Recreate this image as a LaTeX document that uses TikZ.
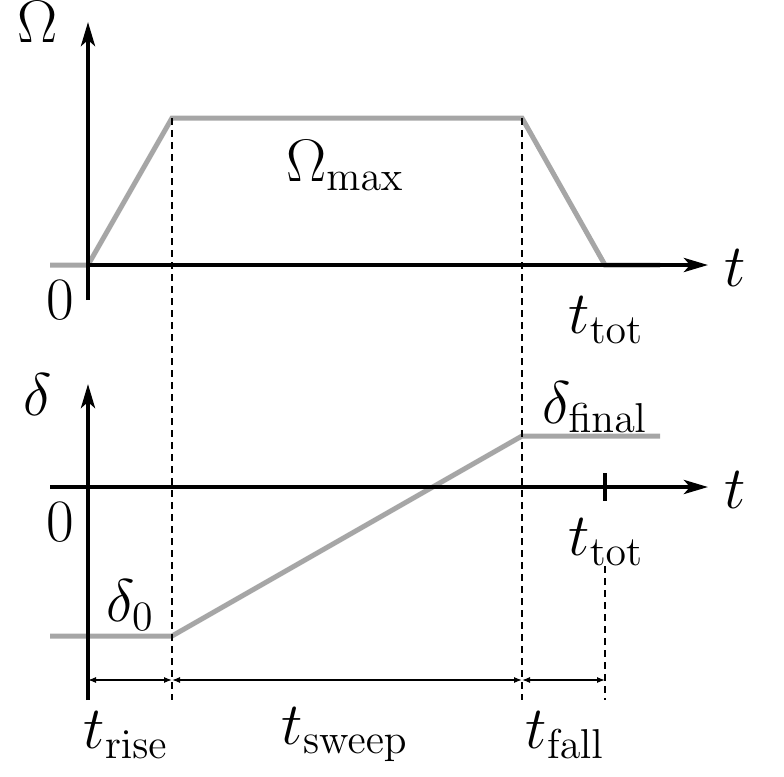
\documentclass[tikz,border=0pt]{standalone}
\usetikzlibrary{arrows.meta}

\begin{document}
\begin{tikzpicture}[x=1pt,y=-1pt,>={Stealth[length=24pt,width=14pt,inset=6pt]}]

    %
    % Styles for axes, pulses and guides
    %
    \tikzstyle{axis} = [black, line width=4pt];
    \tikzstyle{pulse} = [black!35, line width=5pt];
    \tikzstyle{guide} = [black, line width=1.6pt, dash pattern=on 7pt off 5pt];
    \tikzstyle{span} = [black, line width=1.2pt, {Latex[length=8pt,width=6pt]}-{Latex[length=8pt,width=6pt]}];
    \tikzstyle{lbl} = [font=\huge, scale=2.9, inner sep=0pt];

    \useasboundingbox (0,0) rectangle (784,776);

    %
    % Coordinates
    %
    \coordinate (oA) at (88,265);
    \coordinate (oB) at (88,487);
    \coordinate (riseTop) at (172,118);
    \coordinate (fallTop) at (522,118);
    \coordinate (endA) at (605,265);
    \coordinate (startB) at (172,636);
    \coordinate (endB) at (522,436);

    %
    % Top panel: Rabi frequency
    %
    \draw[pulse] (50,265) -- (oA) -- (riseTop) -- (fallTop) -- (endA) -- (660,265);
    \draw[axis,->] (88,300) -- (88,22);
    \draw[axis,->] (oA) -- (708,265);

    %
    % Bottom panel: detuning
    %
    \draw[pulse] (50,636) -- (startB) -- (endB) -- (660,436);
    \draw[axis,->] (88,700) -- (88,384);
    \draw[axis,->] (50,487) -- (708,487);
    \draw[axis] (605,473) -- (605,501);

    %
    % Guides and spans
    %
    \draw[guide] (riseTop) -- (172,700);
    \draw[guide] (fallTop) -- (522,700);
    \draw[guide] (605,566) -- (605,700);
    \coordinate (sA) at (88,680);
    \coordinate (sB) at (172,680);
    \coordinate (sC) at (522,680);
    \coordinate (sD) at (605,680);
    \draw[span] (sA) -- (sB);
    \draw[span] (sB) -- (sC);
    \draw[span] (sC) -- (sD);

    %
    % Labels
    %
    \node[lbl] (omega) at (38,22) {$\Omega$};
    \node[lbl] (zeroA) at (60,300) {$0$};
    \node[lbl] (omax) at (345,165) {$\Omega_{\max}$};
    \node[lbl] (tA) at (735,268) {$t$};
    \node[lbl] (ttotA) at (606,320) {$t_{\mathrm{tot}}$};
    \node[lbl] (delta) at (38,395) {$\delta$};
    \node[lbl] (zeroB) at (60,522) {$0$};
    \node[lbl] (dfin) at (595,407) {$\delta_{\mathrm{final}}$};
    \node[lbl] (tB) at (735,490) {$t$};
    \node[lbl] (ttotB) at (606,542) {$t_{\mathrm{tot}}$};
    \node[lbl] (dzero) at (130,605) {$\delta_0$};
    \node[lbl] (trise) at (126,735) {$t_{\mathrm{rise}}$};
    \node[lbl] (tsweep) at (345,735) {$t_{\mathrm{sweep}}$};
    \node[lbl] (tfall) at (565,735) {$t_{\mathrm{fall}}$};
  \end{tikzpicture}
\end{document}
